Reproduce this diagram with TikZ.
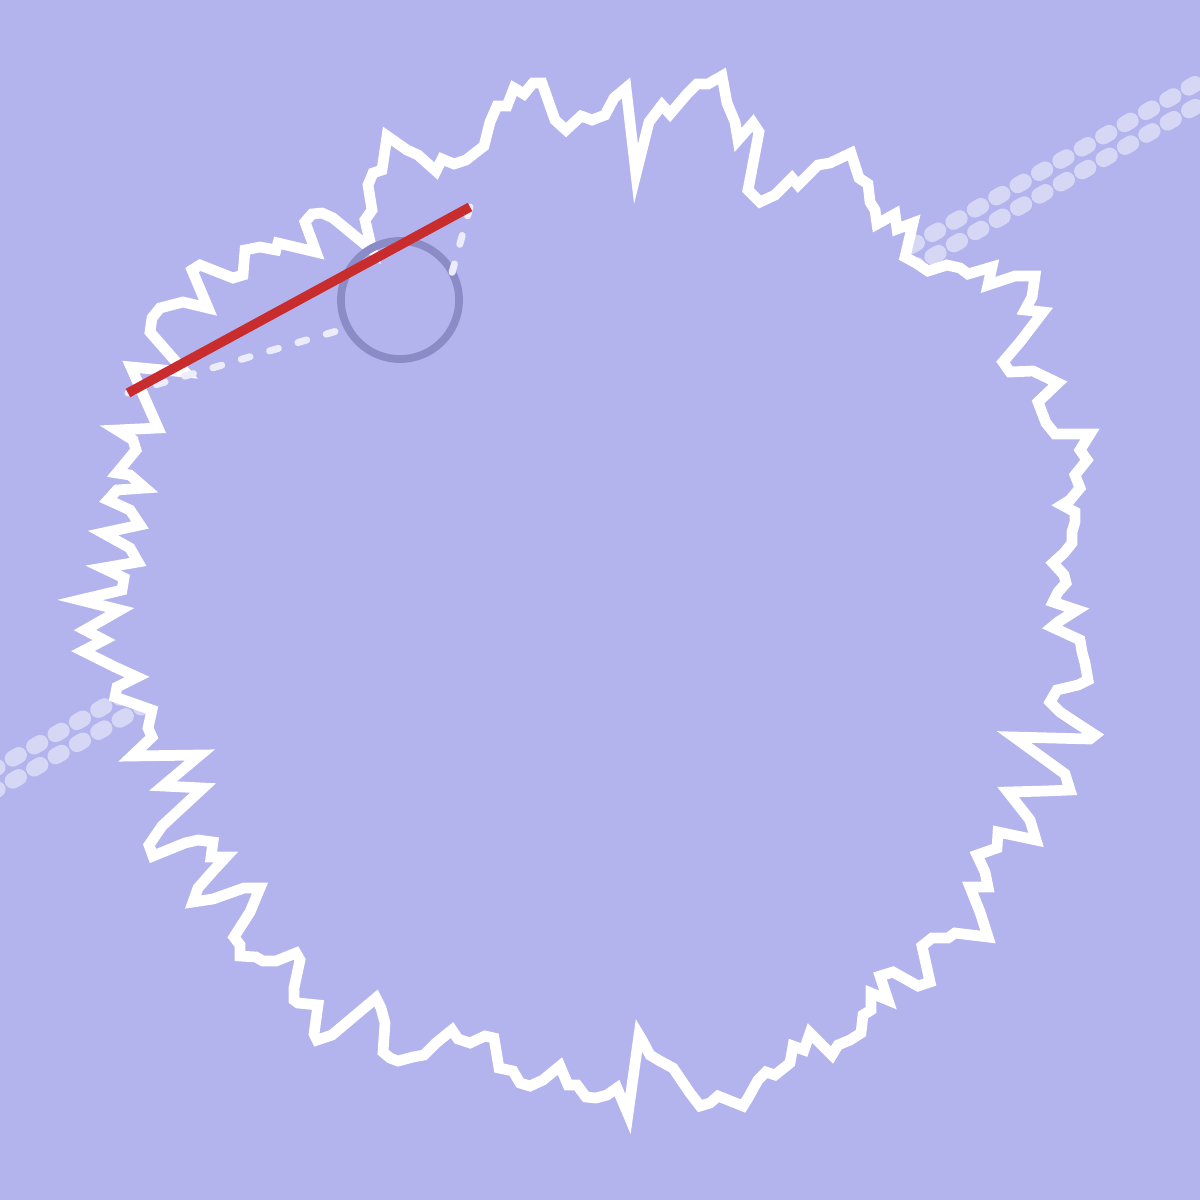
\documentclass[tikz,border=0pt]{standalone}
\usetikzlibrary{calc}
\definecolor{bg_color}{RGB}{179,179,237}
\definecolor{band_color}{RGB}{214,214,245}
\definecolor{ring_color}{RGB}{139,139,200}
\definecolor{chord_color}{RGB}{200,44,44}
\definecolor{guide_color}{RGB}{236,236,250}
\tikzset{
  outline/.style={
    draw=white, line width=3.05pt, fill=bg_color, line join=miter
  },
  band/.style={
    band_color, line width=4.6pt, line cap=round,
    dash pattern=on 2.0pt off 5.0pt
  },
  ring/.style={
    draw=ring_color, line width=2.2pt, circle,
    minimum size=1.18cm, inner sep=0pt, outer sep=0pt
  },
  chord/.style={chord_color, line width=2.7pt},
  guide/.style={
    guide_color, line width=2pt, line cap=round,
    dash pattern=on 2.6pt off 5.8pt
  }
}

\begin{document}
\begin{tikzpicture}[x=0.01cm, y=-0.01cm]

\fill[bg_color] (0,0) rectangle (1200,1200);
\useasboundingbox (0,0) rectangle (1200,1200);

% band behind the blob
\coordinate (band_top_start) at (-30,783);
\coordinate (band_top_end) at (1230,64);
\coordinate (band_low_start) at (-30,805);
\coordinate (band_low_end) at (1230,87);
\draw[band] (band_top_start) -- (band_top_end);
\draw[band] (band_low_start) -- (band_low_end);

% jagged outline
\draw[outline] (372,250) -- (365,220) -- (372,210) -- (368,185) -- (373,173) -- (382,170) -- (387,136)
  -- (407,150) -- (418,155) -- (436,171) -- (442,159) -- (454,164) -- (466,160) -- (484,146)
  -- (490,122) -- (497,106) -- (507,106) -- (514,88) -- (524,94) -- (533,83) -- (542,83)
  -- (555,120) -- (566,130) -- (581,116) -- (592,120) -- (605,115) -- (614,98) -- (626,88)
  -- (636,174) -- (649,122) -- (662,105) -- (670,114) -- (687,94) -- (697,84) -- (708,84)
  -- (722,76) -- (727,103) -- (735,122) -- (738,140) -- (753,123) -- (759,132) -- (748,190)
  -- (760,202) -- (775,195) -- (792,178) -- (798,185) -- (818,165) -- (830,163) -- (851,153)
  -- (859,178) -- (868,184) -- (870,202) -- (875,210) -- (877,224) -- (895,214) -- (897,229)
  -- (913,223) -- (905,257) -- (916,263) -- (928,271) -- (947,265) -- (960,268) -- (968,274)
  -- (992,267) -- (988,285) -- (1015,276) -- (1035,276) -- (1032,297) -- (1025,310)
  -- (1043,312) -- (1020,342) -- (1003,362) -- (1010,372) -- (1033,371) -- (1058,383)
  -- (1038,402) -- (1046,423) -- (1055,434) -- (1090,434) -- (1080,450) -- (1087,460)
  -- (1075,475) -- (1080,488) -- (1070,500) -- (1062,505) -- (1075,512) -- (1075,522)
  -- (1072,532) -- (1072,543) -- (1064,553) -- (1053,563) -- (1064,575) -- (1066,583)
  -- (1058,592) -- (1053,602) -- (1077,610) -- (1058,622) -- (1052,627) -- (1080,640)
  -- (1082,652) -- (1085,663) -- (1088,680) -- (1078,685) -- (1057,690) -- (1050,702)
  -- (1060,712) -- (1075,722) -- (1095,735) -- (1090,739) -- (1014,737) -- (1065,774)
  -- (1070,790) -- (1045,791) -- (1008,792) -- (1030,820) -- (1036,840) -- (998,832)
  -- (997,848) -- (977,855) -- (985,872) -- (988,887) -- (970,887) -- (980,912) -- (988,937)
  -- (955,933) -- (948,938) -- (932,938) -- (922,946) -- (930,982) -- (918,986) -- (893,972)
  -- (880,976) -- (888,1000) -- (871,993) -- (871,1010) -- (863,1015) -- (861,1033)
  -- (850,1040) -- (838,1045) -- (832,1055) -- (810,1033) -- (804,1050) -- (793,1046)
  -- (790,1063) -- (775,1075) -- (766,1072) -- (758,1080) -- (748,1098) -- (743,1106)
  -- (718,1096) -- (710,1103) -- (700,1106) -- (690,1093) -- (673,1068) -- (660,1061)
  -- (650,1055) -- (642,1040) -- (639,1035) -- (628,1114) -- (617,1088) -- (607,1095)
  -- (596,1098) -- (586,1097) -- (577,1085) -- (568,1085) -- (560,1066) -- (543,1080)
  -- (530,1086) -- (520,1083) -- (513,1071) -- (499,1068) -- (494,1038) -- (485,1036)
  -- (470,1043) -- (458,1039) -- (452,1030) -- (436,1043) -- (424,1055) -- (413,1057)
  -- (398,1061) -- (390,1058) -- (383,1052) -- (385,1023) -- (381,1008) -- (376,998)
  -- (332,1035) -- (317,1040) -- (314,1034) -- (318,1005) -- (298,1003) -- (294,1000)
  -- (294,988) -- (300,960) -- (296,953) -- (276,961) -- (263,961) -- (256,957) -- (240,956)
  -- (240,945) -- (234,937) -- (250,912) -- (260,888) -- (244,888) -- (213,899) -- (193,902)
  -- (198,888) -- (213,871) -- (226,857) -- (211,857) -- (213,842) -- (198,840) -- (185,843)
  -- (153,856) -- (149,845) -- (162,826) -- (203,788) -- (163,786) -- (200,755) -- (132,756)
  -- (152,737) -- (148,728) -- (152,710) -- (115,697) -- (117,687) -- (137,677) -- (115,667)
  -- (83,651) -- (104,640) -- (85,630) -- (120,610) -- (80,600) -- (122,590) -- (124,578)
  -- (103,568) -- (138,562) -- (130,548) -- (103,533) -- (140,525) -- (130,510) -- (108,500)
  -- (117,490) -- (145,488) -- (130,475) -- (117,473) -- (136,450) -- (133,440) -- (117,430)
  -- (158,428) -- (131,367) -- (185,372) -- (150,332) -- (152,318) -- (160,308) -- (183,302)
  -- (208,308) -- (192,270) -- (200,265) -- (233,278) -- (243,275) -- (245,250) -- (260,247)
  -- (276,250) -- (278,243) -- (316,252) -- (305,222) -- (312,214) -- (322,213) -- (333,218)
  -- cycle;

\node[ring] (ring) at (400,300) {};

\coordinate (chord_start) at (128,393);
\coordinate (chord_end) at (470,207);
\draw[guide] (chord_start) -- (ring.208);
\draw[guide] (chord_end) -- (ring.28);
\draw[chord] (chord_start) -- (chord_end);

\end{tikzpicture}
\end{document}
